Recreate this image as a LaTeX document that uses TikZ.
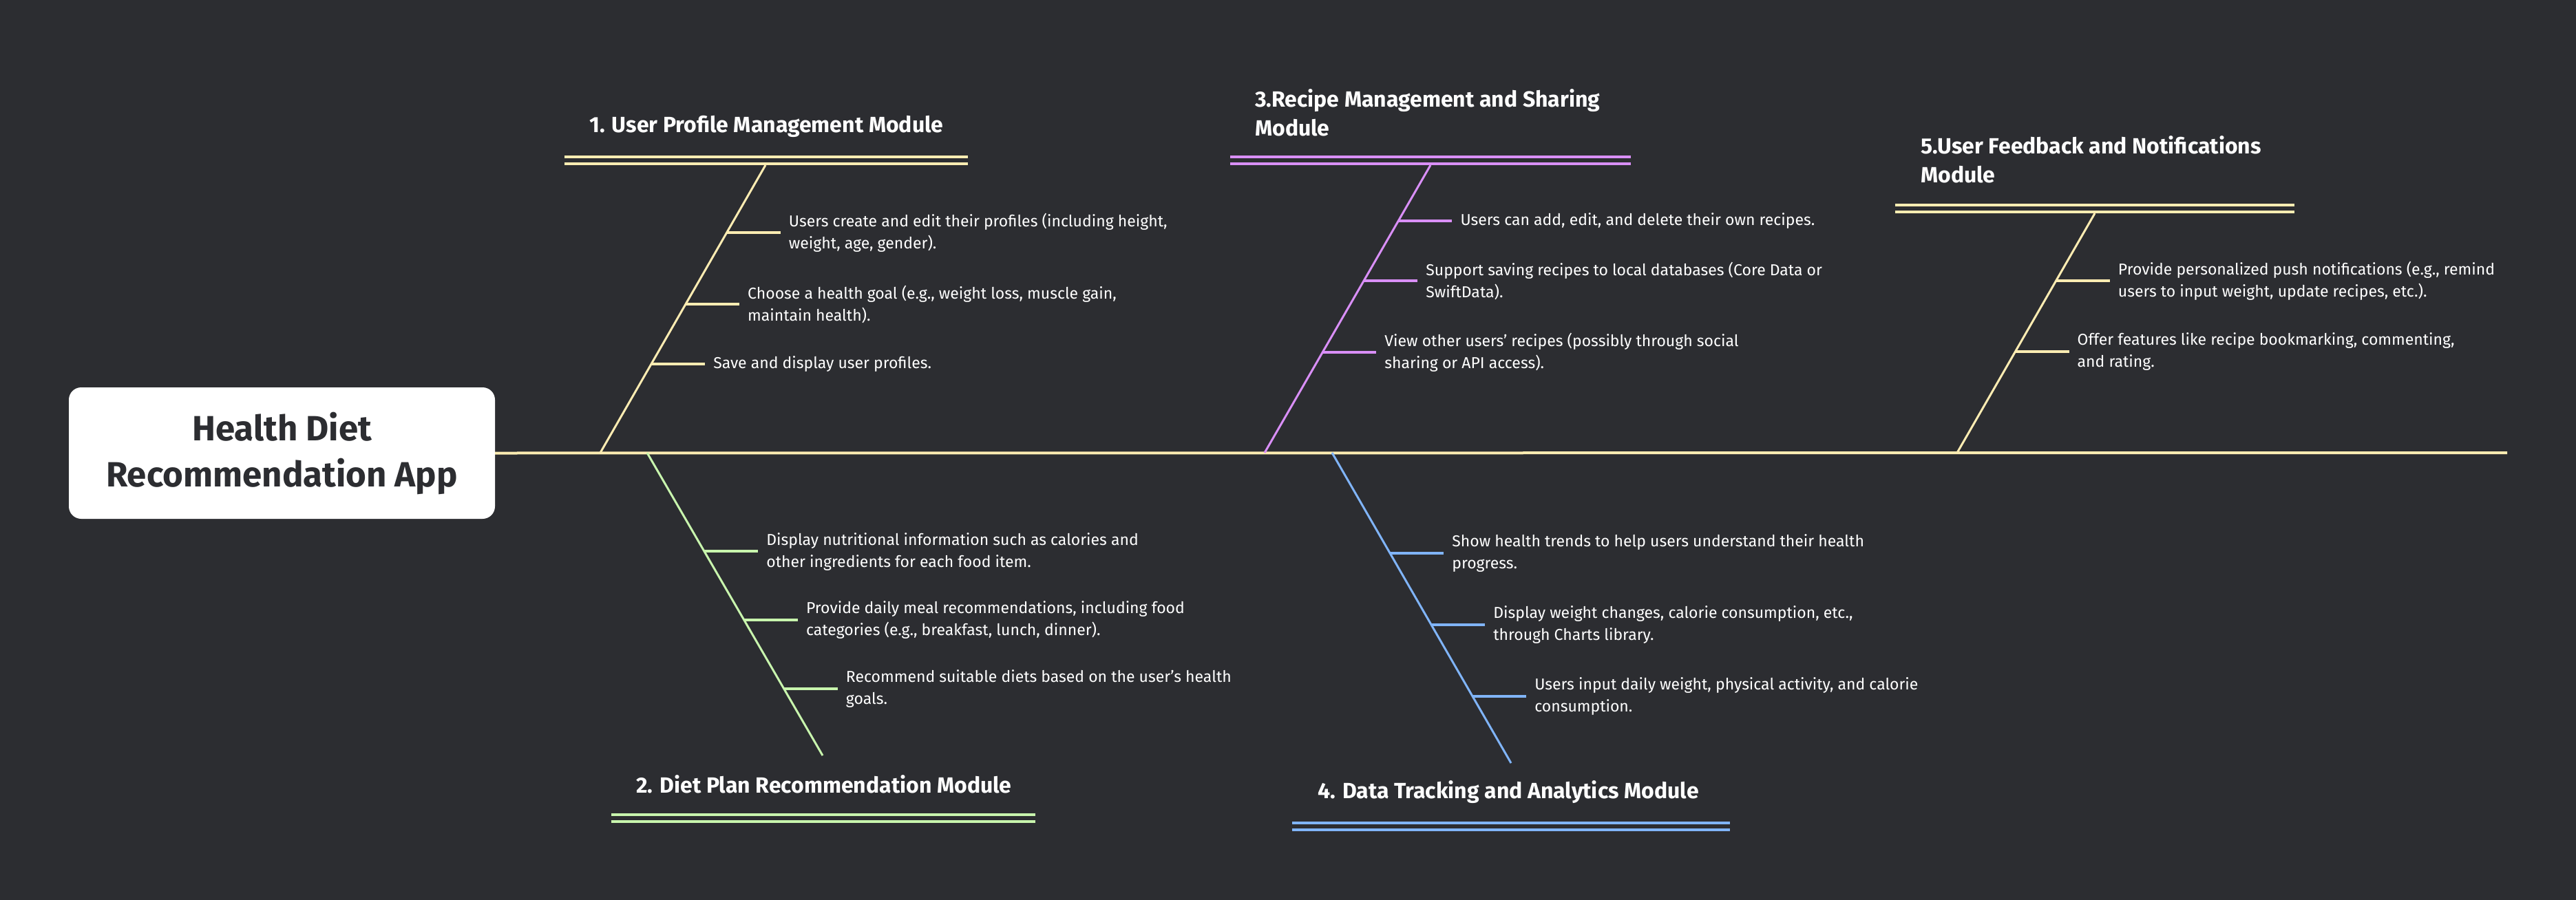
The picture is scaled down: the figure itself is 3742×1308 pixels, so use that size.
\documentclass[tikz,border=0pt]{standalone}
\usepackage{fontspec}
\setmainfont{Fira Sans}
\usetikzlibrary{calc}
\definecolor{bg}{HTML}{2C2D31}
\definecolor{cyel}{HTML}{FDECB2}
\definecolor{cgrn}{HTML}{C8F5AD}
\definecolor{cpur}{HTML}{D98FF7}
\definecolor{cblu}{HTML}{80B4F8}
\tikzset{
  spineline/.style={line width=4pt},
  branchline/.style={line width=3pt},
  subline/.style={line width=4pt},
  dblline/.style={line width=4pt},
  item/.style={anchor=west, inner sep=0pt, text=white, align=left,
    font=\fontsize{23}{32}\selectfont},
  ttl/.style={anchor=west, inner sep=0pt, text=white, align=left,
    font=\bfseries\fontsize{32}{42}\selectfont},
}
\begin{document}
\begin{tikzpicture}[x=1pt,y=-1pt]
\fill[bg] (0,0) rectangle (3742,1308);
\useasboundingbox (0,0) rectangle (3742,1308);

% root
\node[fill=white, rounded corners=18pt, minimum width=619pt, minimum height=191pt,
  inner sep=0pt, text=bg, align=center,
  font=\bfseries\fontsize{51}{67}\selectfont] (root) at (409.5,658.5)
  {Health Diet\\Recommendation App};
\coordinate (tail) at (3642,658);
\draw[spineline, cyel] (root.east) -- (tail);

% branch junctions and ends
\coordinate (j1) at (872,658);  \coordinate (h1) at (1112,240);
\coordinate (j2) at (940,658);  \coordinate (h2) at (1195,1098);
\coordinate (j3) at (1837,658); \coordinate (h3) at (2078,240);
\coordinate (j4) at (1935,658); \coordinate (h4) at (2195,1109);
\coordinate (j5) at (2843,658); \coordinate (h5) at (3043,310);

\draw[branchline, cyel] (j1) -- (h1);
\draw[branchline, cgrn] (j2) -- (h2);
\draw[branchline, cpur] (j3) -- (h3);
\draw[branchline, cblu] (j4) -- (h4);
\draw[branchline, cyel] (j5) -- (h5);

% titles and double lines
\node[ttl] (T1) at (856,184) {1. User Profile Management Module};
\coordinate (a1) at (820,228); \coordinate (b1) at (1406,228);
\draw[dblline, cyel] (a1) -- (b1) ($(a1)+(0,10)$) -- ($(b1)+(0,10)$);

\node[ttl] (T2) at (924,1140) {2. Diet Plan Recommendation Module};
\coordinate (a2) at (888,1184); \coordinate (b2) at (1504,1184);
\draw[dblline, cgrn] (a2) -- (b2) ($(a2)+(0,10)$) -- ($(b2)+(0,10)$);

\node[ttl] (T3) at (1823,164) {3.Recipe Management and Sharing\\Module};
\coordinate (a3) at (1787,228); \coordinate (b3) at (2369,228);
\draw[dblline, cpur] (a3) -- (b3) ($(a3)+(0,10)$) -- ($(b3)+(0,10)$);

\node[ttl] (T4) at (1914,1151) {4. Data Tracking and Analytics Module};
\coordinate (a4) at (1877,1196); \coordinate (b4) at (2513,1196);
\draw[dblline, cblu] (a4) -- (b4) ($(a4)+(0,10)$) -- ($(b4)+(0,10)$);

\node[ttl] (T5) at (2790,231.5) {5.User Feedback and Notifications\\Module};
\coordinate (a5) at (2753,298); \coordinate (b5) at (3333,298);
\draw[dblline, cyel] (a5) -- (b5) ($(a5)+(0,10)$) -- ($(b5)+(0,10)$);

% sub-items branch 1
\coordinate (p11) at ($(j1)!0.7656!(h1)$);
\coordinate (p12) at ($(j1)!0.5167!(h1)$);
\coordinate (p13) at ($(j1)!0.3086!(h1)$);
\node[item] (t11) at ($(p11)+(90,0)$) {Users create and edit their profiles (including height,\\weight, age, gender).};
\node[item] (t12) at ($(p12)+(90,0)$) {Choose a health goal (e.g., weight loss, muscle gain,\\maintain health).};
\node[item] (t13) at ($(p13)+(90,0)$) {Save and display user profiles.};
\foreach \i in {11,12,13} \draw[subline, cyel] (p\i) -- ($(t\i.west)+(-12,0)$);

% branch 2
\coordinate (p21) at ($(j2)!0.3261!(h2)$);
\coordinate (p22) at ($(j2)!0.5523!(h2)$);
\coordinate (p23) at ($(j2)!0.7795!(h2)$);
\node[item] (t21) at ($(p21)+(90,0)$) {Display nutritional information such as calories and\\other ingredients for each food item.};
\node[item] (t22) at ($(p22)+(90,0)$) {Provide daily meal recommendations, including food\\categories (e.g., breakfast, lunch, dinner).};
\node[item] (t23) at ($(p23)+(90,0)$) {Recommend suitable diets based on the user’s health\\goals.};
\foreach \i in {21,22,23} \draw[subline, cgrn] (p\i) -- ($(t\i.west)+(-12,0)$);

% branch 3
\coordinate (p31) at ($(j3)!0.8062!(h3)$);
\coordinate (p32) at ($(j3)!0.5981!(h3)$);
\coordinate (p33) at ($(j3)!0.3493!(h3)$);
\node[item] (t31) at ($(p31)+(90,0)$) {Users can add, edit, and delete their own recipes.};
\node[item] (t32) at ($(p32)+(90,0)$) {Support saving recipes to local databases (Core Data or\\SwiftData).};
\node[item] (t33) at ($(p33)+(90,0)$) {View other users’ recipes (possibly through social\\sharing or API access).};
\foreach \i in {31,32,33} \draw[subline, cpur] (p\i) -- ($(t\i.west)+(-12,0)$);

% branch 4
\coordinate (p41) at ($(j4)!0.3237!(h4)$);
\coordinate (p42) at ($(j4)!0.5543!(h4)$);
\coordinate (p43) at ($(j4)!0.7849!(h4)$);
\node[item] (t41) at ($(p41)+(90,0)$) {Show health trends to help users understand their health\\progress.};
\node[item] (t42) at ($(p42)+(90,0)$) {Display weight changes, calorie consumption, etc.,\\through Charts library.};
\node[item] (t43) at ($(p43)+(90,0)$) {Users input daily weight, physical activity, and calorie\\consumption.};
\foreach \i in {41,42,43} \draw[subline, cblu] (p\i) -- ($(t\i.west)+(-12,0)$);

% branch 5
\coordinate (p51) at ($(j5)!0.7184!(h5)$);
\coordinate (p52) at ($(j5)!0.4224!(h5)$);
\node[item] (t51) at ($(p51)+(90,0)$) {Provide personalized push notifications (e.g., remind\\users to input weight, update recipes, etc.).};
\node[item] (t52) at ($(p52)+(90,0)$) {Offer features like recipe bookmarking, commenting,\\and rating.};
\foreach \i in {51,52} \draw[subline, cyel] (p\i) -- ($(t\i.west)+(-12,0)$);
\end{tikzpicture}
\end{document}
